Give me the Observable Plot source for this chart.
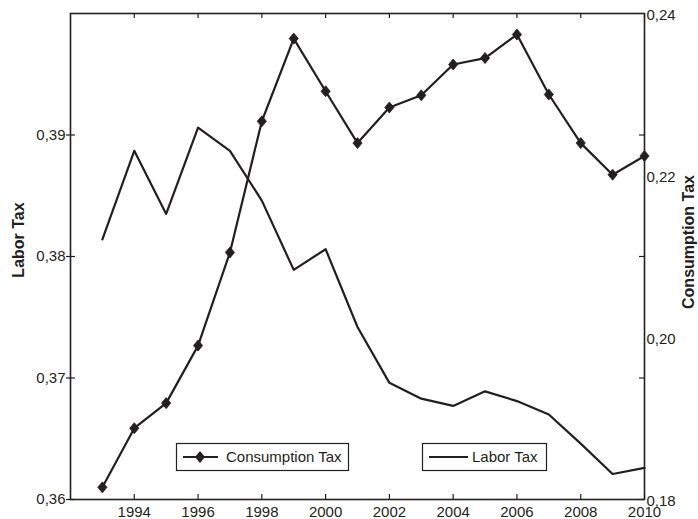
<!DOCTYPE html>
<html>
<head>
<meta charset="utf-8">
<script src="https://cdn.jsdelivr.net/npm/d3@7"></script>
<script src="https://cdn.jsdelivr.net/npm/@observablehq/plot@0.6"></script>
<style>
html, body { margin: 0; padding: 0; background: #fff; }
#chart { width: 698px; height: 519px; }
</style>
</head>
<body>
<div id="chart"></div>
<script>
// ---- data ----
const years = [1993, 1994, 1995, 1996, 1997, 1998, 1999, 2000, 2001, 2002, 2003, 2004, 2005, 2006, 2007, 2008, 2009, 2010];
const laborTax = [0.3814, 0.3887, 0.3835, 0.3906, 0.3887, 0.3846, 0.3789, 0.3806, 0.3742, 0.3696, 0.3683, 0.3677, 0.3689, 0.3681, 0.3670, 0.3646, 0.3621, 0.3626];
const consumptionTax = [0.1815, 0.1888, 0.1919, 0.1990, 0.2105, 0.2267, 0.2369, 0.2304, 0.2240, 0.2284, 0.2299, 0.2337, 0.2345, 0.2374, 0.2300, 0.2240, 0.2201, 0.2224];
const xTicks = [1994, 1996, 1998, 2000, 2002, 2004, 2006, 2008, 2010];
const leftTicks = [0.36, 0.37, 0.38, 0.39];
const rightTicks = [0.18, 0.20, 0.22, 0.24];
const xDomain = [1992, 2010];
const leftDomain = [0.36, 0.40];
const rightDomain = [0.18, 0.24];
const seriesNames = ["Consumption Tax", "Labor Tax"];
const axisTitles = ["Labor Tax", "Consumption Tax"];

// ---- setup ----
const ink = "#231f20";
const font = '"Liberation Sans", Arial, Helvetica, sans-serif';
const W = 698, H = 519;
const mL = 70, mR = 54, mT = 13, mB = 20;
const plotW = W - mL - mR, plotH = H - mT - mB;

const toLeft = c => leftDomain[0] + (c - rightDomain[0]) * (leftDomain[1] - leftDomain[0]) / (rightDomain[1] - rightDomain[0]);
const fromLeft = v => rightDomain[0] + (v - leftDomain[0]) * (rightDomain[1] - rightDomain[0]) / (leftDomain[1] - leftDomain[0]);
const comma = d => d3.format(".2f")(d).replace(".", ",");

const labor = years.map((year, i) => ({year, value: laborTax[i]}));
const consumption = years.map((year, i) => ({year, value: toLeft(consumptionTax[i])}));

const diamond = {
  draw(context, size) {
    const r = Math.sqrt(size / Math.PI);
    const h = r * 1.2;
    context.moveTo(0, -h);
    context.lineTo(r, 0);
    context.lineTo(0, h);
    context.lineTo(-r, 0);
    context.closePath();
  }
};

const svg = Plot.plot({
  width: W,
  height: H,
  marginLeft: mL,
  marginRight: mR,
  marginTop: mT,
  marginBottom: mB,
  style: {fontFamily: font, fontSize: "15px", color: ink, background: "#fff"},
  x: {domain: xDomain, label: null},
  y: {domain: leftDomain, label: null},
  marks: [
    Plot.axisX(xTicks, {anchor: "bottom", tickSize: 0, tickPadding: 7, tickFormat: d => String(d), label: null}),
    Plot.axisY(leftTicks, {anchor: "left", tickSize: 4, tickPadding: 1, tickFormat: comma, label: null, strokeWidth: 1.2}),
    Plot.axisY(rightTicks.map(toLeft), {anchor: "right", tickSize: 0, tickPadding: 2, dy: 2, tickFormat: d => comma(fromLeft(d)), label: null}),
    // inward tick marks
    Plot.ruleY(leftTicks, {y: d => d, insetRight: plotW - 5, stroke: ink, strokeWidth: 1.2}),
    Plot.ruleY(leftTicks, {y: d => d, insetLeft: plotW - 5, stroke: ink, strokeWidth: 1.2}),
    Plot.ruleX(xTicks, {x: d => d, insetTop: plotH - 5, stroke: ink, strokeWidth: 1.2}),
    Plot.ruleX(xTicks, {x: d => d, insetBottom: plotH - 5, stroke: ink, strokeWidth: 1.2}),
    Plot.lineY(labor, {x: "year", y: "value", stroke: ink, strokeWidth: 2.2}),
    Plot.lineY(consumption, {x: "year", y: "value", stroke: ink, strokeWidth: 2.2}),
    Plot.dot(consumption, {x: "year", y: "value", symbol: diamond, r: 4.6, fill: ink, stroke: ink, strokeWidth: 0.8}),
    Plot.frame({stroke: ink, strokeWidth: 1.6})
  ]
});

document.getElementById("chart").appendChild(svg);

// ---- axis titles ----
const s = d3.select(svg);
s.append("text")
  .attr("transform", `translate(18,240) rotate(-90)`)
  .attr("text-anchor", "middle").attr("dy", "0.35em")
  .attr("font-family", font).attr("font-size", 16).attr("font-weight", "bold").attr("fill", ink)
  .text(axisTitles[0]);
s.append("text")
  .attr("transform", `translate(688,242) rotate(-90)`)
  .attr("text-anchor", "middle").attr("dy", "0.35em")
  .attr("font-family", font).attr("font-size", 16).attr("font-weight", "bold").attr("fill", ink)
  .text(axisTitles[1]);

// ---- legends ----
function legendBox(x, y, w, h, label, withMarker) {
  const g = s.append("g");
  g.append("rect").attr("x", x + 0.5).attr("y", y + 0.5).attr("width", w).attr("height", h)
    .attr("fill", "#fff").attr("stroke", ink).attr("stroke-width", 1.2);
  const cy = y + h / 2 + 0.5;
  g.append("line").attr("x1", x + 7).attr("x2", x + 8 + (withMarker ? 34 : 38)).attr("y1", cy).attr("y2", cy)
    .attr("stroke", ink).attr("stroke-width", 2.2);
  if (withMarker) {
    g.append("path").attr("d", "M0,-6L5,0L0,6L-5,0Z").attr("transform", `translate(${x + 24},${cy})`).attr("fill", ink);
  }
  g.append("text").attr("x", x + 50).attr("y", cy).attr("dy", "0.35em")
    .attr("text-anchor", "start")
    .attr("font-family", font).attr("font-size", 15).attr("fill", ink).text(label);
}
legendBox(176, 443, 172, 27, seriesNames[0], true);
legendBox(422, 443, 124, 27, seriesNames[1], false);
</script>
</body>
</html>
